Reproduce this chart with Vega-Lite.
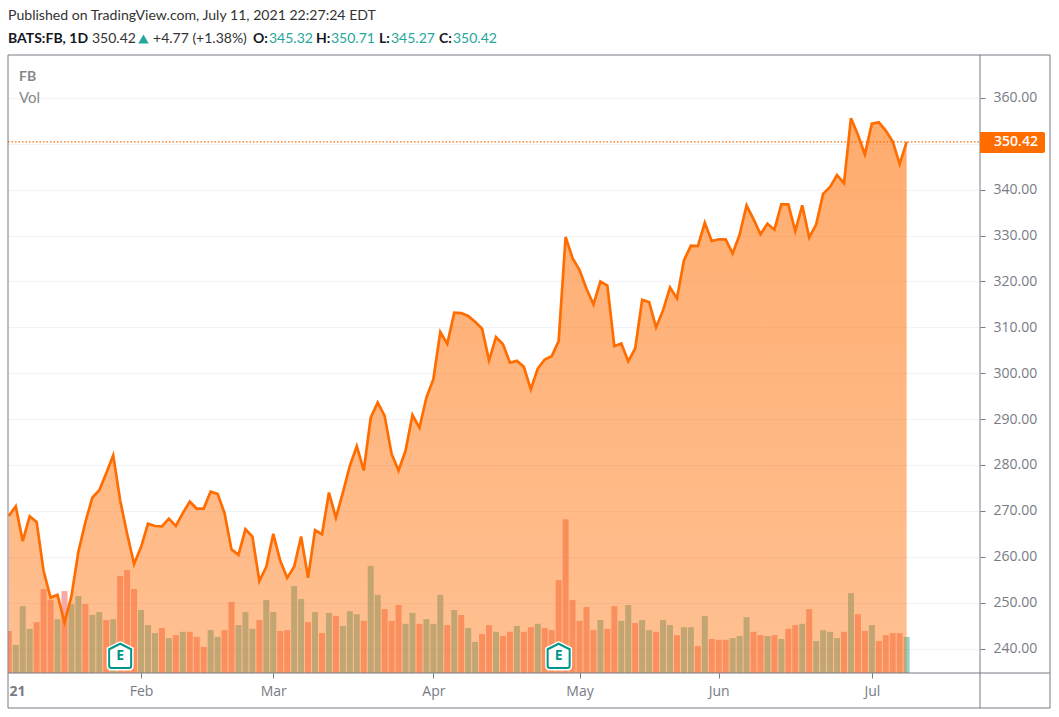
{"$schema":"https://vega.github.io/schema/vega-lite/v6.json","width":972,"height":618,"autosize":"none","padding":{"left":8,"top":55,"right":79,"bottom":44},"background":"white","config":{"view":{"stroke":null},"text":{"font":"Lato","fontSize":14,"align":"left","baseline":"middle"}},
"datasets":{"prices":[
{"i":1,"close":268.9,"vol":10.0,"dir":"down"},{"i":2,"close":271.0,"vol":6.7,"dir":"up"},{"i":3,"close":263.4,"vol":15.9,"dir":"up"},{"i":4,"close":268.8,"vol":10.5,"dir":"up"},{"i":5,"close":267.6,"vol":12.1,"dir":"down"},{"i":6,"close":256.9,"vol":20.0,"dir":"down"},{"i":7,"close":251.1,"vol":17.4,"dir":"down"},{"i":8,"close":251.7,"vol":12.8,"dir":"up"},{"i":9,"close":245.7,"vol":19.5,"dir":"down"},{"i":10,"close":251.4,"vol":16.4,"dir":"up"},
{"i":11,"close":261.1,"vol":18.3,"dir":"up"},{"i":12,"close":267.5,"vol":16.4,"dir":"down"},{"i":13,"close":272.9,"vol":13.8,"dir":"up"},{"i":14,"close":274.5,"vol":14.5,"dir":"up"},{"i":15,"close":278.2,"vol":12.6,"dir":"down"},{"i":16,"close":282.1,"vol":12.8,"dir":"up"},{"i":17,"close":272.3,"vol":23.1,"dir":"down"},{"i":18,"close":265.0,"vol":24.5,"dir":"down"},{"i":19,"close":258.4,"vol":20.0,"dir":"down"},{"i":20,"close":262.1,"vol":15.0,"dir":"up"},
{"i":21,"close":267.2,"vol":11.4,"dir":"up"},{"i":22,"close":266.7,"vol":9.5,"dir":"up"},{"i":23,"close":266.6,"vol":10.7,"dir":"down"},{"i":24,"close":268.3,"vol":8.3,"dir":"up"},{"i":25,"close":266.7,"vol":9.0,"dir":"down"},{"i":26,"close":269.5,"vol":9.8,"dir":"up"},{"i":27,"close":272.0,"vol":9.8,"dir":"down"},{"i":28,"close":270.5,"vol":8.6,"dir":"down"},{"i":29,"close":270.5,"vol":6.2,"dir":"down"},{"i":30,"close":274.2,"vol":10.2,"dir":"up"},
{"i":31,"close":273.7,"vol":8.6,"dir":"up"},{"i":32,"close":269.5,"vol":10.2,"dir":"down"},{"i":33,"close":261.6,"vol":16.9,"dir":"down"},{"i":34,"close":260.4,"vol":11.4,"dir":"up"},{"i":35,"close":266.0,"vol":14.5,"dir":"up"},{"i":36,"close":264.4,"vol":10.5,"dir":"up"},{"i":37,"close":254.7,"vol":12.6,"dir":"down"},{"i":38,"close":257.8,"vol":17.4,"dir":"up"},{"i":39,"close":265.0,"vol":14.5,"dir":"up"},{"i":40,"close":259.1,"vol":10.0,"dir":"down"},
{"i":41,"close":255.4,"vol":10.2,"dir":"down"},{"i":42,"close":257.8,"vol":20.7,"dir":"up"},{"i":43,"close":264.4,"vol":17.6,"dir":"up"},{"i":44,"close":255.4,"vol":12.1,"dir":"down"},{"i":45,"close":265.8,"vol":14.5,"dir":"up"},{"i":46,"close":264.9,"vol":9.5,"dir":"down"},{"i":47,"close":274.0,"vol":14.3,"dir":"up"},{"i":48,"close":268.5,"vol":13.6,"dir":"down"},{"i":49,"close":274.0,"vol":11.2,"dir":"up"},{"i":50,"close":279.8,"vol":14.7,"dir":"up"},
{"i":51,"close":284.1,"vol":14.0,"dir":"up"},{"i":52,"close":278.8,"vol":12.4,"dir":"down"},{"i":53,"close":290.3,"vol":25.5,"dir":"up"},{"i":54,"close":293.6,"vol":18.6,"dir":"up"},{"i":55,"close":290.7,"vol":15.2,"dir":"down"},{"i":56,"close":282.4,"vol":12.4,"dir":"down"},{"i":57,"close":278.8,"vol":16.2,"dir":"down"},{"i":58,"close":283.1,"vol":11.7,"dir":"up"},{"i":59,"close":290.9,"vol":14.3,"dir":"up"},{"i":60,"close":288.1,"vol":11.7,"dir":"down"},
{"i":61,"close":294.7,"vol":12.8,"dir":"up"},{"i":62,"close":298.7,"vol":11.7,"dir":"up"},{"i":63,"close":309.0,"vol":18.6,"dir":"up"},{"i":64,"close":306.4,"vol":11.4,"dir":"down"},{"i":65,"close":313.2,"vol":15.0,"dir":"up"},{"i":66,"close":313.1,"vol":13.8,"dir":"down"},{"i":67,"close":312.5,"vol":10.7,"dir":"up"},{"i":68,"close":311.2,"vol":7.4,"dir":"up"},{"i":69,"close":309.7,"vol":9.3,"dir":"down"},{"i":70,"close":302.8,"vol":11.4,"dir":"down"},
{"i":71,"close":307.9,"vol":9.8,"dir":"up"},{"i":72,"close":306.3,"vol":8.8,"dir":"down"},{"i":73,"close":302.3,"vol":9.8,"dir":"down"},{"i":74,"close":302.7,"vol":11.2,"dir":"up"},{"i":75,"close":301.4,"vol":9.8,"dir":"down"},{"i":76,"close":296.5,"vol":10.9,"dir":"down"},{"i":77,"close":301.0,"vol":11.7,"dir":"up"},{"i":78,"close":303.0,"vol":10.7,"dir":"down"},{"i":79,"close":303.7,"vol":10.2,"dir":"down"},{"i":80,"close":307.0,"vol":22.1,"dir":"down"},
{"i":81,"close":329.7,"vol":36.6,"dir":"down"},{"i":82,"close":325.1,"vol":17.4,"dir":"down"},{"i":83,"close":322.5,"vol":12.4,"dir":"down"},{"i":84,"close":318.4,"vol":15.7,"dir":"down"},{"i":85,"close":315.0,"vol":10.2,"dir":"down"},{"i":86,"close":320.0,"vol":12.6,"dir":"up"},{"i":87,"close":319.1,"vol":10.5,"dir":"down"},{"i":88,"close":305.9,"vol":15.9,"dir":"down"},{"i":89,"close":306.5,"vol":12.4,"dir":"up"},{"i":90,"close":302.6,"vol":16.2,"dir":"up"},
{"i":91,"close":305.4,"vol":11.9,"dir":"down"},{"i":92,"close":316.0,"vol":12.6,"dir":"up"},{"i":93,"close":315.5,"vol":10.2,"dir":"up"},{"i":94,"close":310.0,"vol":9.8,"dir":"down"},{"i":95,"close":313.7,"vol":12.6,"dir":"up"},{"i":96,"close":318.7,"vol":11.4,"dir":"up"},{"i":97,"close":316.3,"vol":9.0,"dir":"down"},{"i":98,"close":324.6,"vol":10.9,"dir":"up"},{"i":99,"close":327.8,"vol":10.9,"dir":"up"},{"i":100,"close":327.7,"vol":6.4,"dir":"down"},
{"i":101,"close":332.8,"vol":13.6,"dir":"up"},{"i":102,"close":328.8,"vol":8.1,"dir":"down"},{"i":103,"close":329.2,"vol":7.9,"dir":"down"},{"i":104,"close":329.2,"vol":7.9,"dir":"down"},{"i":105,"close":326.1,"vol":8.3,"dir":"up"},{"i":106,"close":330.2,"vol":8.8,"dir":"up"},{"i":107,"close":336.6,"vol":13.3,"dir":"up"},{"i":108,"close":333.6,"vol":9.8,"dir":"down"},{"i":109,"close":330.3,"vol":9.0,"dir":"down"},{"i":110,"close":332.6,"vol":8.8,"dir":"up"},
{"i":111,"close":331.3,"vol":9.0,"dir":"down"},{"i":112,"close":336.8,"vol":8.1,"dir":"up"},{"i":113,"close":336.8,"vol":10.5,"dir":"down"},{"i":114,"close":331.0,"vol":11.4,"dir":"down"},{"i":115,"close":336.6,"vol":11.7,"dir":"up"},{"i":116,"close":329.6,"vol":15.2,"dir":"down"},{"i":117,"close":332.4,"vol":7.6,"dir":"up"},{"i":118,"close":339.1,"vol":10.2,"dir":"up"},{"i":119,"close":340.6,"vol":9.8,"dir":"up"},{"i":120,"close":343.2,"vol":8.3,"dir":"up"},
{"i":121,"close":341.4,"vol":9.8,"dir":"down"},{"i":122,"close":355.6,"vol":19.0,"dir":"up"},{"i":123,"close":352.0,"vol":14.0,"dir":"down"},{"i":124,"close":347.7,"vol":10.0,"dir":"down"},{"i":125,"close":354.4,"vol":11.4,"dir":"up"},{"i":126,"close":354.7,"vol":7.6,"dir":"down"},{"i":127,"close":352.9,"vol":9.0,"dir":"down"},{"i":128,"close":350.5,"vol":9.5,"dir":"down"},{"i":129,"close":345.6,"vol":9.5,"dir":"down"},{"i":130,"close":350.42,"vol":8.6,"dir":"up"}],
"earnings":[{"i":17,"label":"E"},{"i":80,"label":"E"}]},
"resolve":{"scale":{"y":"independent"},"axis":{"y":"independent"}},
"layer":[
{"data":{"name":"prices"},"mark":{"type":"bar","size":6,"clip":true,"opacity":0.5},"encoding":{
"x":{"field":"i","type":"quantitative","scale":{"domain":[0.885,140.54],"nice":false,"zero":false,"padding":0},"axis":{"values":[20,39,62,83,103,125],"labelExpr":"datum.value==20?'Feb':datum.value==39?'Mar':datum.value==62?'Apr':datum.value==83?'May':datum.value==103?'Jun':'Jul'","title":null,"grid":false,"domain":false,"tickSize":5,"tickColor":"#787b86","labelColor":"#787b86","labelFont":"Open Sans","labelFontSize":14,"labelPadding":6,"labelFlush":false}},
"y":{"field":"vol","type":"quantitative","scale":{"domain":[0,147.1],"nice":false},"axis":null},
"color":{"field":"dir","type":"nominal","scale":{"domain":["up","down"],"range":["#26a69a","#ef5350"]},"legend":null}}},
{"data":{"values":[{}]},"layer":[
{"data":{"name":"prices"},"mark":{"type":"area","clip":true,"color":{"gradient":"linear","x1":0,"y1":0,"x2":0,"y2":1,"stops":[{"offset":0,"color":"rgba(255,109,0,0.57)"},{"offset":1,"color":"rgba(255,109,0,0.43)"}]}},"encoding":{
"x":{"field":"i","type":"quantitative"},
"y":{"field":"close","type":"quantitative","stack":null,"scale":{"domain":[234.66,369.37],"nice":false,"zero":false},"axis":{"orient":"right","values":[240,250,260,270,280,290,300,310,320,330,340,350,360],"labelExpr":"datum.value==350?'':format(datum.value,'.2f')","title":null,"domain":false,"tickSize":5,"tickColor":"#787b86","labelColor":"#787b86","labelFont":"Open Sans","labelFontSize":14,"labelPadding":8,"grid":true,"gridColor":"#f0f3fa","gridWidth":1}},
"y2":{"datum":234.66}}},
{"data":{"name":"prices"},"mark":{"type":"line","clip":true,"color":"#ff6d00","strokeWidth":2.7},"encoding":{"x":{"field":"i","type":"quantitative"},"y":{"field":"close","type":"quantitative"}}},
{"mark":{"type":"rule","color":"#ff6d00","strokeWidth":1.2,"strokeDash":[1.5,2]},"encoding":{"x":{"datum":0.885,"type":"quantitative"},"x2":{"datum":140.54},"y":{"datum":350.42,"type":"quantitative"}}},
{"mark":{"type":"rect","fill":null,"fillOpacity":0,"stroke":"#787b86","strokeWidth":1,"clip":false},"encoding":{"x":{"datum":0.885,"type":"quantitative"},"x2":{"datum":150.6},"y":{"datum":369.37,"type":"quantitative"},"y2":{"datum":227.03}}},
{"mark":{"type":"rule","color":"#787b86","strokeWidth":1},"encoding":{"x":{"datum":140.54,"type":"quantitative"},"y":{"datum":369.37,"type":"quantitative"},"y2":{"datum":227.03}}},
{"mark":{"type":"rule","color":"#787b86","strokeWidth":1},"encoding":{"x":{"datum":0.885,"type":"quantitative"},"x2":{"datum":150.6},"y":{"datum":234.66,"type":"quantitative"}}},
{"mark":{"type":"rect","fill":"#ff6d00","cornerRadiusTopRight":2,"cornerRadiusBottomRight":2},"encoding":{"x":{"datum":140.54,"type":"quantitative"},"x2":{"datum":149.88},"y":{"datum":352.59,"type":"quantitative"},"y2":{"datum":348.01}}},
{"mark":{"type":"text","text":"350.42","color":"white","font":"Open Sans","fontSize":14,"fontWeight":600,"align":"center"},"encoding":{"x":{"datum":145.71,"type":"quantitative"},"y":{"datum":350.42,"type":"quantitative"}}},
{"data":{"name":"earnings"},"mark":{"type":"point","filled":true,"fill":"white","opacity":1,"stroke":"white","strokeWidth":5,"size":484,"shape":"M0,-1.1 L1,-0.6 L1,0.9 Q1,1.1 0.8,1.1 L-0.8,1.1 Q-1,1.1 -1,0.9 L-1,-0.6 Z"},"encoding":{"x":{"field":"i","type":"quantitative"},"y":{"datum":238.4,"type":"quantitative"}}},
{"data":{"name":"earnings"},"mark":{"type":"point","filled":true,"fill":"white","opacity":1,"stroke":"#009688","strokeWidth":2,"size":484,"shape":"M0,-1.1 L1,-0.6 L1,0.9 Q1,1.1 0.8,1.1 L-0.8,1.1 Q-1,1.1 -1,0.9 L-1,-0.6 Z"},"encoding":{"x":{"field":"i","type":"quantitative"},"y":{"datum":238.4,"type":"quantitative"}}},
{"data":{"name":"earnings"},"mark":{"type":"text","color":"#009688","font":"Open Sans","fontSize":14,"fontWeight":"bold","align":"center"},"encoding":{"x":{"field":"i","type":"quantitative"},"y":{"datum":238.3,"type":"quantitative"},"text":{"field":"label"}}},
{"mark":{"type":"text","text":"21","color":"#787b86","font":"Open Sans","fontSize":14,"fontWeight":"bold"},"encoding":{"x":{"datum":1.1,"type":"quantitative"},"y":{"datum":230.6,"type":"quantitative"}}},
{"mark":{"type":"text","text":"FB","color":"#888888","fontWeight":"bold"},"encoding":{"x":{"datum":2.465,"type":"quantitative"},"y":{"datum":364.65,"type":"quantitative"}}},
{"mark":{"type":"text","text":"Vol","color":"#888888","fontSize":15},"encoding":{"x":{"datum":2.465,"type":"quantitative"},"y":{"datum":360.1,"type":"quantitative"}}},
{"mark":{"type":"text","text":"Published on TradingView.com, July 11, 2021 22:27:24 EDT","color":"#333333","fontSize":14.1},"encoding":{"x":{"datum":0.885,"type":"quantitative"},"y":{"datum":377.87,"type":"quantitative"}}},
{"mark":{"type":"text","text":"BATS:FB, 1D","color":"#131722","fontWeight":"bold"},"encoding":{"x":{"datum":0.885,"type":"quantitative"},"y":{"datum":372.86,"type":"quantitative"}}},
{"mark":{"type":"text","text":"350.42","color":"#333333"},"encoding":{"x":{"datum":12.954,"type":"quantitative"},"y":{"datum":372.86,"type":"quantitative"}}},
{"mark":{"type":"point","shape":"triangle-up","filled":true,"color":"#26a69a","opacity":1,"size":110},"encoding":{"x":{"datum":20.35,"type":"quantitative"},"y":{"datum":372.86,"type":"quantitative"}}},
{"mark":{"type":"text","text":"+4.77 (+1.38%)","color":"#333333"},"encoding":{"x":{"datum":21.72,"type":"quantitative"},"y":{"datum":372.86,"type":"quantitative"}}},
{"mark":{"type":"text","text":"O:","color":"#131722","fontWeight":"bold"},"encoding":{"x":{"datum":36.09,"type":"quantitative"},"y":{"datum":372.86,"type":"quantitative"}}},
{"mark":{"type":"text","text":"345.32","color":"#26a69a"},"encoding":{"x":{"datum":38.38,"type":"quantitative"},"y":{"datum":372.86,"type":"quantitative"}}},
{"mark":{"type":"text","text":"H:","color":"#131722","fontWeight":"bold"},"encoding":{"x":{"datum":45.14,"type":"quantitative"},"y":{"datum":372.86,"type":"quantitative"}}},
{"mark":{"type":"text","text":"350.71","color":"#26a69a"},"encoding":{"x":{"datum":47.29,"type":"quantitative"},"y":{"datum":372.86,"type":"quantitative"}}},
{"mark":{"type":"text","text":"L:","color":"#131722","fontWeight":"bold"},"encoding":{"x":{"datum":54.19,"type":"quantitative"},"y":{"datum":372.86,"type":"quantitative"}}},
{"mark":{"type":"text","text":"345.27","color":"#26a69a"},"encoding":{"x":{"datum":55.91,"type":"quantitative"},"y":{"datum":372.86,"type":"quantitative"}}},
{"mark":{"type":"text","text":"C:","color":"#131722","fontWeight":"bold"},"encoding":{"x":{"datum":62.81,"type":"quantitative"},"y":{"datum":372.86,"type":"quantitative"}}},
{"mark":{"type":"text","text":"350.42","color":"#26a69a"},"encoding":{"x":{"datum":64.82,"type":"quantitative"},"y":{"datum":372.86,"type":"quantitative"}}}
]}
]}
